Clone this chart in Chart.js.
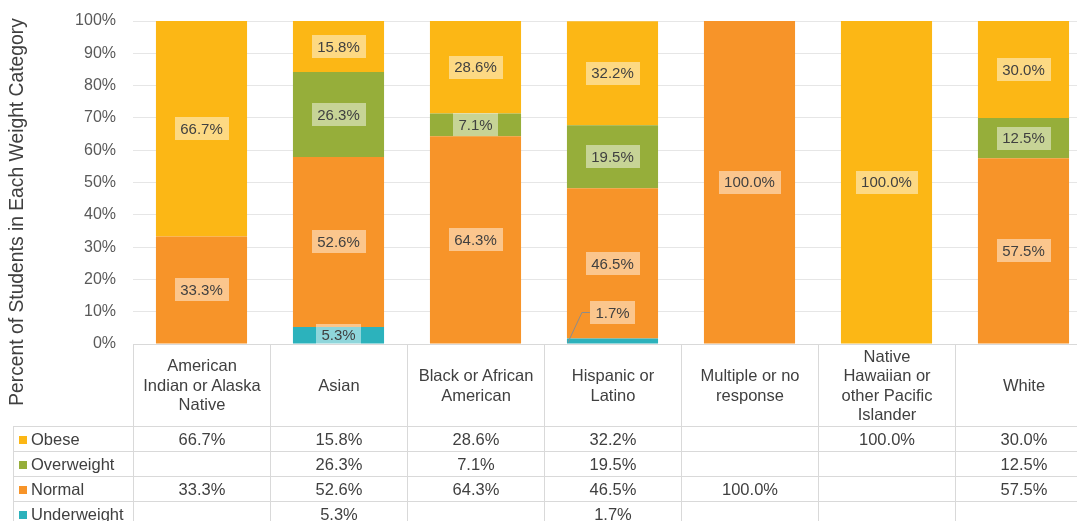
<!DOCTYPE html>
<html>
<head>
<meta charset="utf-8">
<script src="https://cdn.jsdelivr.net/npm/chart.js@4/dist/chart.umd.min.js"></script>
<style>
    html, body { margin: 0; padding: 0; background: #fff; overflow: hidden; width: 1077px; height: 521px; }
    #wrap { position: relative; width: 1100px; height: 521px; }
    #chart { position: absolute; left: 0; top: 0; }
    #dataTable {
        position: absolute;
        border-collapse: collapse;
        table-layout: fixed;
        font-family: 'Liberation Sans', Arial, sans-serif;
        font-size: 16.5px;
        color: #404040;
    }
    #dataTable td {
        border: 1px solid #d9d9d9;
        padding: 0;
        text-align: center;
        vertical-align: middle;
        line-height: 19.5px;
        white-space: nowrap;
        overflow: hidden;
    }
    #dataTable tr.head td { height: 81px; }
    #dataTable tr.row td { height: 24px; line-height: 24px; }
    #dataTable td.blank { border-top: none; border-left: none; }
    #dataTable td.key { text-align: left; padding-left: 5px; }
    .swatch { display: inline-block; width: 8px; height: 8px; margin-right: 4px; vertical-align: 1px; }
</style>
</head>
<body>
<div id="wrap">
    <canvas id="chart" width="1100" height="521"></canvas>
</div>
<script>
// categories (tick labels, already broken into lines as in the original)
const categories = [
    ['American', 'Indian or Alaska', 'Native'],
    ['Asian'],
    ['Black or African', 'American'],
    ['Hispanic or', 'Latino'],
    ['Multiple or no', 'response'],
    ['Native', 'Hawaiian or', 'other Pacific', 'Islander'],
    ['White']
];

// percent of students in each weight category
const obese       = [66.7, 15.8, 28.6, 32.2, null, 100.0, 30.0];
const overweight  = [null, 26.3, 7.1, 19.5, null, null, 12.5];
const normal      = [33.3, 52.6, 64.3, 46.5, 100.0, null, 57.5];
const underweight = [null, 5.3, null, 1.7, null, null, null];

const yTicks = [0, 10, 20, 30, 40, 50, 60, 70, 80, 90, 100];
const yTitle = 'Percent of Students in Each Weight Category';

const colors = {
    obese: '#fcb715',
    overweight: '#96ae3a',
    normal: '#f79429',
    underweight: '#2cb2bc'
};

const FONT = "'Liberation Sans', Arial, sans-serif";
Chart.defaults.font.family = FONT;

// draw value labels with a light box in the middle of each segment
const segmentLabels = {
    id: 'segmentLabels',
    afterDatasetsDraw(chart) {
        const ctx = chart.ctx;
        ctx.save();
        ctx.font = '15px ' + FONT;
        ctx.textAlign = 'center';
        ctx.textBaseline = 'middle';
        chart.data.datasets.forEach((ds, di) => {
            const meta = chart.getDatasetMeta(di);
            meta.data.forEach((bar, i) => {
                const v = ds.data[i];
                if (v === null || v === undefined) return;
                const text = v.toFixed(1) + '%';
                const tw = ctx.measureText(text).width;
                const bw = tw + 11, bh = 23;
                const segH = Math.abs(bar.base - bar.y);
                let cx = bar.x;
                let cy = (bar.y + bar.base) / 2;
                if (segH < 10) {
                    // tiny segment: lift label and draw a leader line
                    cy = bar.base - 31;
                    const left = bar.x - bar.width / 2;
                    ctx.strokeStyle = '#8c8c8c';
                    ctx.lineWidth = 1;
                    ctx.beginPath();
                    ctx.moveTo(left + 1, bar.base - 1);
                    ctx.lineTo(left + 15, cy);
                    ctx.lineTo(cx - bw / 2, cy);
                    ctx.stroke();
                }
                ctx.fillStyle = 'rgba(255,255,255,0.47)';
                ctx.fillRect(Math.round(cx - bw / 2), Math.round(cy - bh / 2), Math.round(bw), bh);
                ctx.fillStyle = '#404040';
                ctx.fillText(text, cx, cy + 1);
            });
        });
        ctx.restore();
    }
};

// rotated axis title, centred on plot + table like the original
const axisTitle = {
    id: 'axisTitle',
    afterDraw(chart) {
        const ctx = chart.ctx;
        ctx.save();
        ctx.translate(18, 212);
        ctx.rotate(-Math.PI / 2);
        ctx.font = '19.3px ' + FONT;
        ctx.fillStyle = '#404040';
        ctx.textAlign = 'center';
        ctx.textBaseline = 'middle';
        ctx.fillText(yTitle, 0, 0);
        ctx.restore();
    }
};

const chart = new Chart(document.getElementById('chart'), {
    type: 'bar',
    data: {
        labels: categories,
        datasets: [
            { label: 'Underweight', data: underweight, backgroundColor: colors.underweight },
            { label: 'Normal', data: normal, backgroundColor: colors.normal },
            { label: 'Overweight', data: overweight, backgroundColor: colors.overweight },
            { label: 'Obese', data: obese, backgroundColor: colors.obese }
        ]
    },
    options: {
        responsive: false,
        animation: false,
        layout: {
            padding: { top: 21, bottom: 177, left: 0, right: 8 }
        },
        datasets: {
            bar: {
                categoryPercentage: 1,
                barPercentage: 0.665,
                borderWidth: 0
            }
        },
        plugins: {
            legend: { display: false },
            tooltip: { enabled: false }
        },
        scales: {
            x: {
                stacked: true,
                display: false
            },
            y: {
                stacked: true,
                min: 0,
                max: 100,
                afterBuildTicks: (scale) => {
                    scale.ticks = yTicks.map(v => ({ value: v }));
                },
                afterFit: (scale) => {
                    scale.width = 133;
                    scale.paddingTop = 0;
                    scale.paddingBottom = 0;
                },
                ticks: {
                    padding: 17,
                    color: '#595959',
                    font: { size: 16 },
                    callback: v => v + '%'
                },
                grid: {
                    color: '#e6e6e6',
                    drawTicks: false
                },
                border: { display: false }
            }
        }
    },
    plugins: [segmentLabels, axisTitle]
});

// data table under the plot, aligned with the category columns
function buildTable() {
    const area = chart.chartArea;
    const colW = (area.right - area.left) / categories.length;
    const keyW = 120;
    const table = document.createElement('table');
    table.id = 'dataTable';
    table.style.left = (area.left - keyW) + 'px';
    table.style.top = Math.round(area.bottom) + 'px';
    table.style.width = (keyW + colW * categories.length) + 'px';

    const cg = document.createElement('colgroup');
    const c0 = document.createElement('col');
    c0.style.width = keyW + 'px';
    cg.appendChild(c0);
    categories.forEach(() => {
        const c = document.createElement('col');
        c.style.width = colW + 'px';
        cg.appendChild(c);
    });
    table.appendChild(cg);

    const head = document.createElement('tr');
    head.className = 'head';
    const blank = document.createElement('td');
    blank.className = 'blank';
    head.appendChild(blank);
    categories.forEach(lines => {
        const td = document.createElement('td');
        td.innerHTML = lines.join('<br>');
        head.appendChild(td);
    });
    table.appendChild(head);

    const rows = [
        ['Obese', obese, colors.obese],
        ['Overweight', overweight, colors.overweight],
        ['Normal', normal, colors.normal],
        ['Underweight', underweight, colors.underweight]
    ];
    rows.forEach(([name, values, color]) => {
        const tr = document.createElement('tr');
        tr.className = 'row';
        const key = document.createElement('td');
        key.className = 'key';
        key.innerHTML = '<span class="swatch" style="background:' + color + '"></span>' + name;
        tr.appendChild(key);
        values.forEach(v => {
            const td = document.createElement('td');
            td.textContent = v === null ? '' : v.toFixed(1) + '%';
            tr.appendChild(td);
        });
        table.appendChild(tr);
    });

    document.getElementById('wrap').appendChild(table);
}

buildTable();
</script>
</body>
</html>
